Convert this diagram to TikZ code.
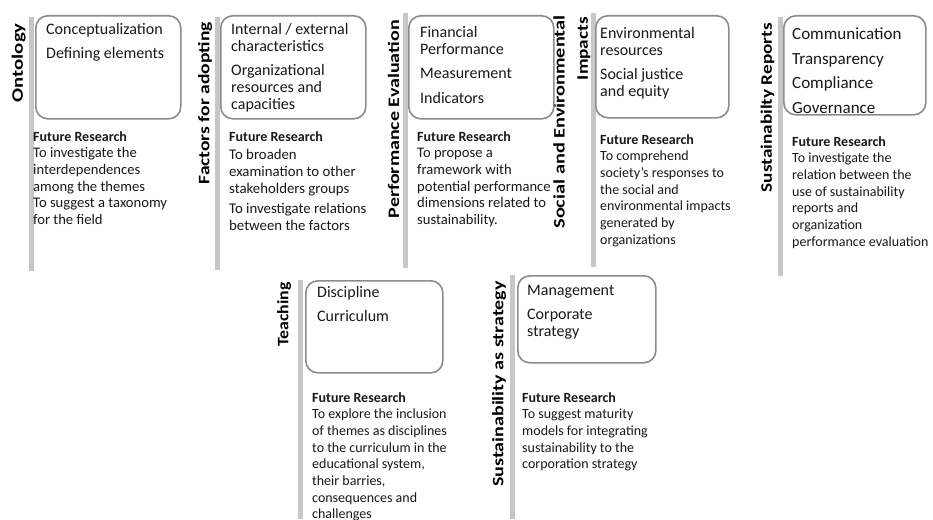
\documentclass[tikz,border=0pt]{standalone}
\usepackage{fontspec}
\setmainfont{Carlito}
\newcommand{\frhfont}{\fontsize{14}{16.7}\selectfont\bfseries}
\begin{document}
\begin{tikzpicture}[x=1pt,y=-1pt,
  bar/.style={fill=black!22},
  box/.style={draw=black!45, line width=1.6pt, rounded corners=12pt, fill=white, inner sep=0pt, anchor=north west},
  lab/.style={rotate=90, anchor=east, inner sep=0pt, font=\fontsize{16}{26}\selectfont\bfseries, text=black},
  item/.style={anchor=north west, inner sep=0pt, align=left, font=\fontsize{16}{17}\selectfont, text=black!90},
  fr/.style={anchor=north west, inner sep=0pt, align=left, font=\fontsize{14}{16.7}\selectfont, text=black!90}]
\useasboundingbox (0,0) rectangle (933,519);
\fill[white] (0,0) rectangle (933,519);

% ---------- vertical bars ----------
\fill[bar] (28.5,17) rectangle (33.5,271);
\fill[bar] (215,17) rectangle (220,270);
\fill[bar] (403,13) rectangle (408,268);
\fill[bar] (590.5,13) rectangle (595.5,267);
\fill[bar] (778,17) rectangle (783,276);
\fill[bar] (298,280) rectangle (303,519);
\fill[bar] (510,275) rectangle (515,519);

% ---------- rotated titles ----------
\node[lab, xscale=1.3] (t1) at (18.5,23) {Ontology};
\node[lab, xscale=1.22] (t2) at (205,22) {Factors for adopting};
\node[lab, xscale=1.25] (t3) at (393.5,20) {Performance Evaluation};
\node[lab, xscale=1.27] (t4) at (559,15) {Social and Environmental};
\node[lab, xscale=1.2] (t4b) at (584,17) {Impacts};
\node[lab, xscale=1.2] (t5) at (767.5,23) {Sustainabilty Reports};
\node[lab, xscale=1.11] (t6) at (284,282) {Teaching};
\node[lab, xscale=1.25] (t7) at (499,281) {Sustainability as strategy};

% ---------- boxes ----------
\node[box, minimum width=145pt, minimum height=103pt] (b1) at (35,15) {};
\node[box, minimum width=145pt, minimum height=103pt] (b2) at (220,15) {};
\node[box, minimum width=145pt, minimum height=103pt] (b3) at (408,15) {};
\node[box, minimum width=133pt, minimum height=102pt] (b4) at (595,15) {};
\node[box, minimum width=142pt, minimum height=99pt] (b5) at (783,15) {};
\node[box, minimum width=137pt, minimum height=92pt] (b6) at (305,280) {};
\node[box, minimum width=138pt, minimum height=87pt] (b7) at (517,275) {};

% ---------- box contents ----------
\node[item] (i1) at (46,23) {Conceptualization\\[7pt]Defining elements};
\node[item] (i2) at (231,23) {Internal / external\\characteristics\\[7pt]Organizational\\resources and\\capacities};
\node[item] (i3) at (420,26) {Financial\\Performance\\[7pt]Measurement\\[8pt]Indicators};
\node[item] (i4) at (600,27) {Environmental\\resources\\[7pt]Social justice\\and equity};
\node[item, font=\fontsize{17}{17}\selectfont] (i5) at (792,28) {Communication\\[7.5pt]Transparency\\[7.5pt]Compliance\\[7.5pt]Governance};
\node[item] (i6) at (317,286) {Discipline\\[7pt]Curriculum};
\node[item] (i7) at (527,285) {Management\\[7pt]Corporate\\strategy};

% ---------- future research ----------
\node[fr, font=\fontsize{14.6}{16.7}\selectfont] (f1) at (33,131) {{\frhfont Future Research}\\To investigate the\\interdependences\\among the themes\\To suggest a taxonomy\\for the field};
\node[fr, font=\fontsize{14.8}{16.7}\selectfont] (f2) at (229,131) {{\frhfont Future Research}\\[2pt]To broaden\\examination to other\\stakeholders groups\\[4pt]To investigate relations\\between the factors};
\node[fr, font=\fontsize{14.6}{16.7}\selectfont] (f3) at (417,131) {{\frhfont Future Research}\\To propose a\\framework with\\potential performance\\dimensions related to\\sustainability.};
\node[fr] (f4) at (600,134) {{\frhfont Future Research}\\To comprehend\\society's responses to\\the social and\\environmental impacts\\generated by\\organizations};
\node[fr] (f5) at (792,136) {{\frhfont Future Research}\\To investigate the\\relation between the\\use of sustainability\\reports and\\organization\\performance evaluation};
\node[fr] (f6) at (312,392) {{\frhfont Future Research}\\To explore the inclusion\\of themes as disciplines\\to the curriculum in the\\educational system,\\their barries,\\consequences and\\challenges};
\node[fr] (f7) at (522,392) {{\frhfont Future Research}\\To suggest maturity\\models for integrating\\sustainability to the\\corporation strategy};
\end{tikzpicture}
\end{document}
